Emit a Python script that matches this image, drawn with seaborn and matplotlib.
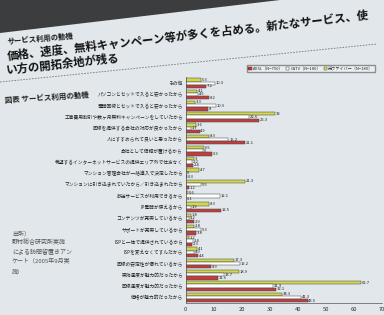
import matplotlib
matplotlib.use('Agg')
import matplotlib.pyplot as plt
import seaborn as sns
import pandas as pd
from matplotlib.patches import Polygon, Patch
from matplotlib.lines import Line2D

categories = [
    'その他',
    'パソコンとセットで入ると安かったから',
    '電話回線とセットで入ると安かったから',
    '工事費用割引や数ヶ月無料キャンペーンをしていたから',
    '回線を提供する会社の対応が良かったから',
    '人にすすめられて良いと思ったから',
    '会社として信頼が置けるから',
    '希望するインターネットサービスの提供エリア外で仕方なく',
    'マンション管理会社が一括導入で決定したから',
    'マンションに引き込まれていたから／引き込まれたから',
    '放送サービスが利用できるから',
    'IP電話が使えるから',
    'コンテンツが充実しているから',
    'サポートが充実しているから',
    'ISPと一体で提供されているから',
    'ISPを変えなくてすんだから',
    '回線の安定性が優れているから',
    '実効速度が魅力的だったから',
    '回線速度が魅力的だったから',
    '価格が魅力的だったから',
]
fiber = [5.3, 4.1, 3.3, 32.0, 3.6, 8.3, 6.5, 3.0, 4.7, 21.3, 0.6, 8.3, 1.8, 2.8, 1.2, 4.1, 17.3, 18.9, 62.7, 34.3]
catv = [10.3, 4.5, 10.9, 22.6, 1.7, 15.2, 6.0, 2.2, 0.0, 5.5, 12.1, 1.9, 1.2, 5.3, 2.4, 2.9, 19.2, 13.7, 31.3, 41.3]
adsl = [7.2, 8.2, 8.0, 26.3, 4.9, 21.1, 9.3, 2.4, 0.3, 1.2, 0.1, 12.5, 2.9, 3.8, 2.3, 4.4, 8.9, 11.6, 32.1, 43.5]
series_names = ['ADSL（N=750）', 'CATV（N=180）', '光ファイバー（N=180）']
colors = ['#d42a2c', '#ffffff', '#e4ec3a']

sns.set_theme(style='white')
plt.rcParams['font.family'] = ['Noto Sans CJK JP', 'DejaVu Sans']

rows = []
for name, vals in zip(series_names, [adsl, catv, fiber]):
    for c, v in zip(categories, vals):
        rows.append({'cat': c, 'series': name, 'value': v})
df = pd.DataFrame(rows)

bg = '#e1e7ea'
fig = plt.figure(figsize=(3.84, 3.15), dpi=100)
fig.patch.set_facecolor(bg)

# dark room edge at top-left of the photographed slide
fig.patches.append(Polygon([[0, 1], [280 / 384, 1], [0, 1 - 33 / 315]], closed=True,
                           transform=fig.transFigure, facecolor='#3b3d3e', edgecolor='none'))

ax = fig.add_axes([0.484, 0.038, 0.51, 0.716])
ax.set_facecolor(bg)
hue_order = [series_names[2], series_names[1], series_names[0]]
pal = {series_names[0]: colors[0], series_names[1]: colors[1], series_names[2]: colors[2]}
sns.barplot(data=df, y='cat', x='value', hue='series', hue_order=hue_order, order=categories,
            palette=pal, orient='h', width=0.86, edgecolor='#444444', linewidth=0.35,
            ax=ax, legend=False)
for cont in ax.containers:
    ax.bar_label(cont, fmt='%g', fontsize=3.0, padding=0.6, color='#222222')

ax.set_xlim(0, 70)
ax.set_xticks(range(0, 71, 10))
ax.set_xlabel('')
ax.set_ylabel('')
ax.tick_params(axis='y', labelsize=3.4, length=0, pad=2, colors='#222222')
ax.tick_params(axis='x', labelsize=4.2, length=1.5, width=0.4, pad=1, colors='#333333')
for s in ['top', 'right']:
    ax.spines[s].set_visible(False)
for s in ['left', 'bottom']:
    ax.spines[s].set_color('#555555')
    ax.spines[s].set_linewidth(0.5)

handles = [Patch(facecolor=colors[i], edgecolor='#444444', linewidth=0.35) for i in range(3)]
fig.legend(handles, series_names, loc='upper right', bbox_to_anchor=(0.982, 0.8), ncol=3,
           fontsize=3.0, frameon=True, handlelength=0.8, handleheight=0.8, columnspacing=0.6,
           handletextpad=0.3, borderpad=0.35, fancybox=False, edgecolor='#777777',
           facecolor='#eef2f3')

# titles (slide photographed at a slight angle)
fig.text(7 / 384, 1 - 44 / 315, 'サービス利用の動機', fontsize=5.3, weight='bold', color='#1a1a1a',
         rotation=5, rotation_mode='anchor', ha='left', va='baseline')
fig.text(8 / 384, 1 - 60 / 315, '価格、速度、無料キャンペーン等が多くを占める。新たなサービス、使',
         fontsize=8.2, weight='bold', color='#111111',
         rotation=6.5, rotation_mode='anchor', ha='left', va='baseline')
fig.text(7 / 384, 1 - 74 / 315, 'い方の開拓余地が残る', fontsize=8.2, weight='bold', color='#111111',
         rotation=6.3, rotation_mode='anchor', ha='left', va='baseline')
fig.add_artist(Line2D([0, 377 / 384], [1 - 82 / 315, 1 - 44 / 315], transform=fig.transFigure,
                      color='#777777', lw=0.6, ls=(0, (2, 1.5))))
fig.text(5 / 384, 1 - 103 / 315, '図表 サービス利用の動機', fontsize=5.4, weight='bold', color='#222222',
         rotation=4, rotation_mode='anchor', ha='left', va='baseline')

source_lines = ['出所）', '野村総合研究所実施', 'による訪問留置きアン', 'ケート（2005年9月実', '施）']
for i, line in enumerate(source_lines):
    fig.text(12 / 384, 1 - (235 + i * 9.5) / 315, line, fontsize=4.3, color='#555555',
             ha='left', va='baseline')

fig.savefig('out.png', dpi=100, facecolor=fig.get_facecolor())
